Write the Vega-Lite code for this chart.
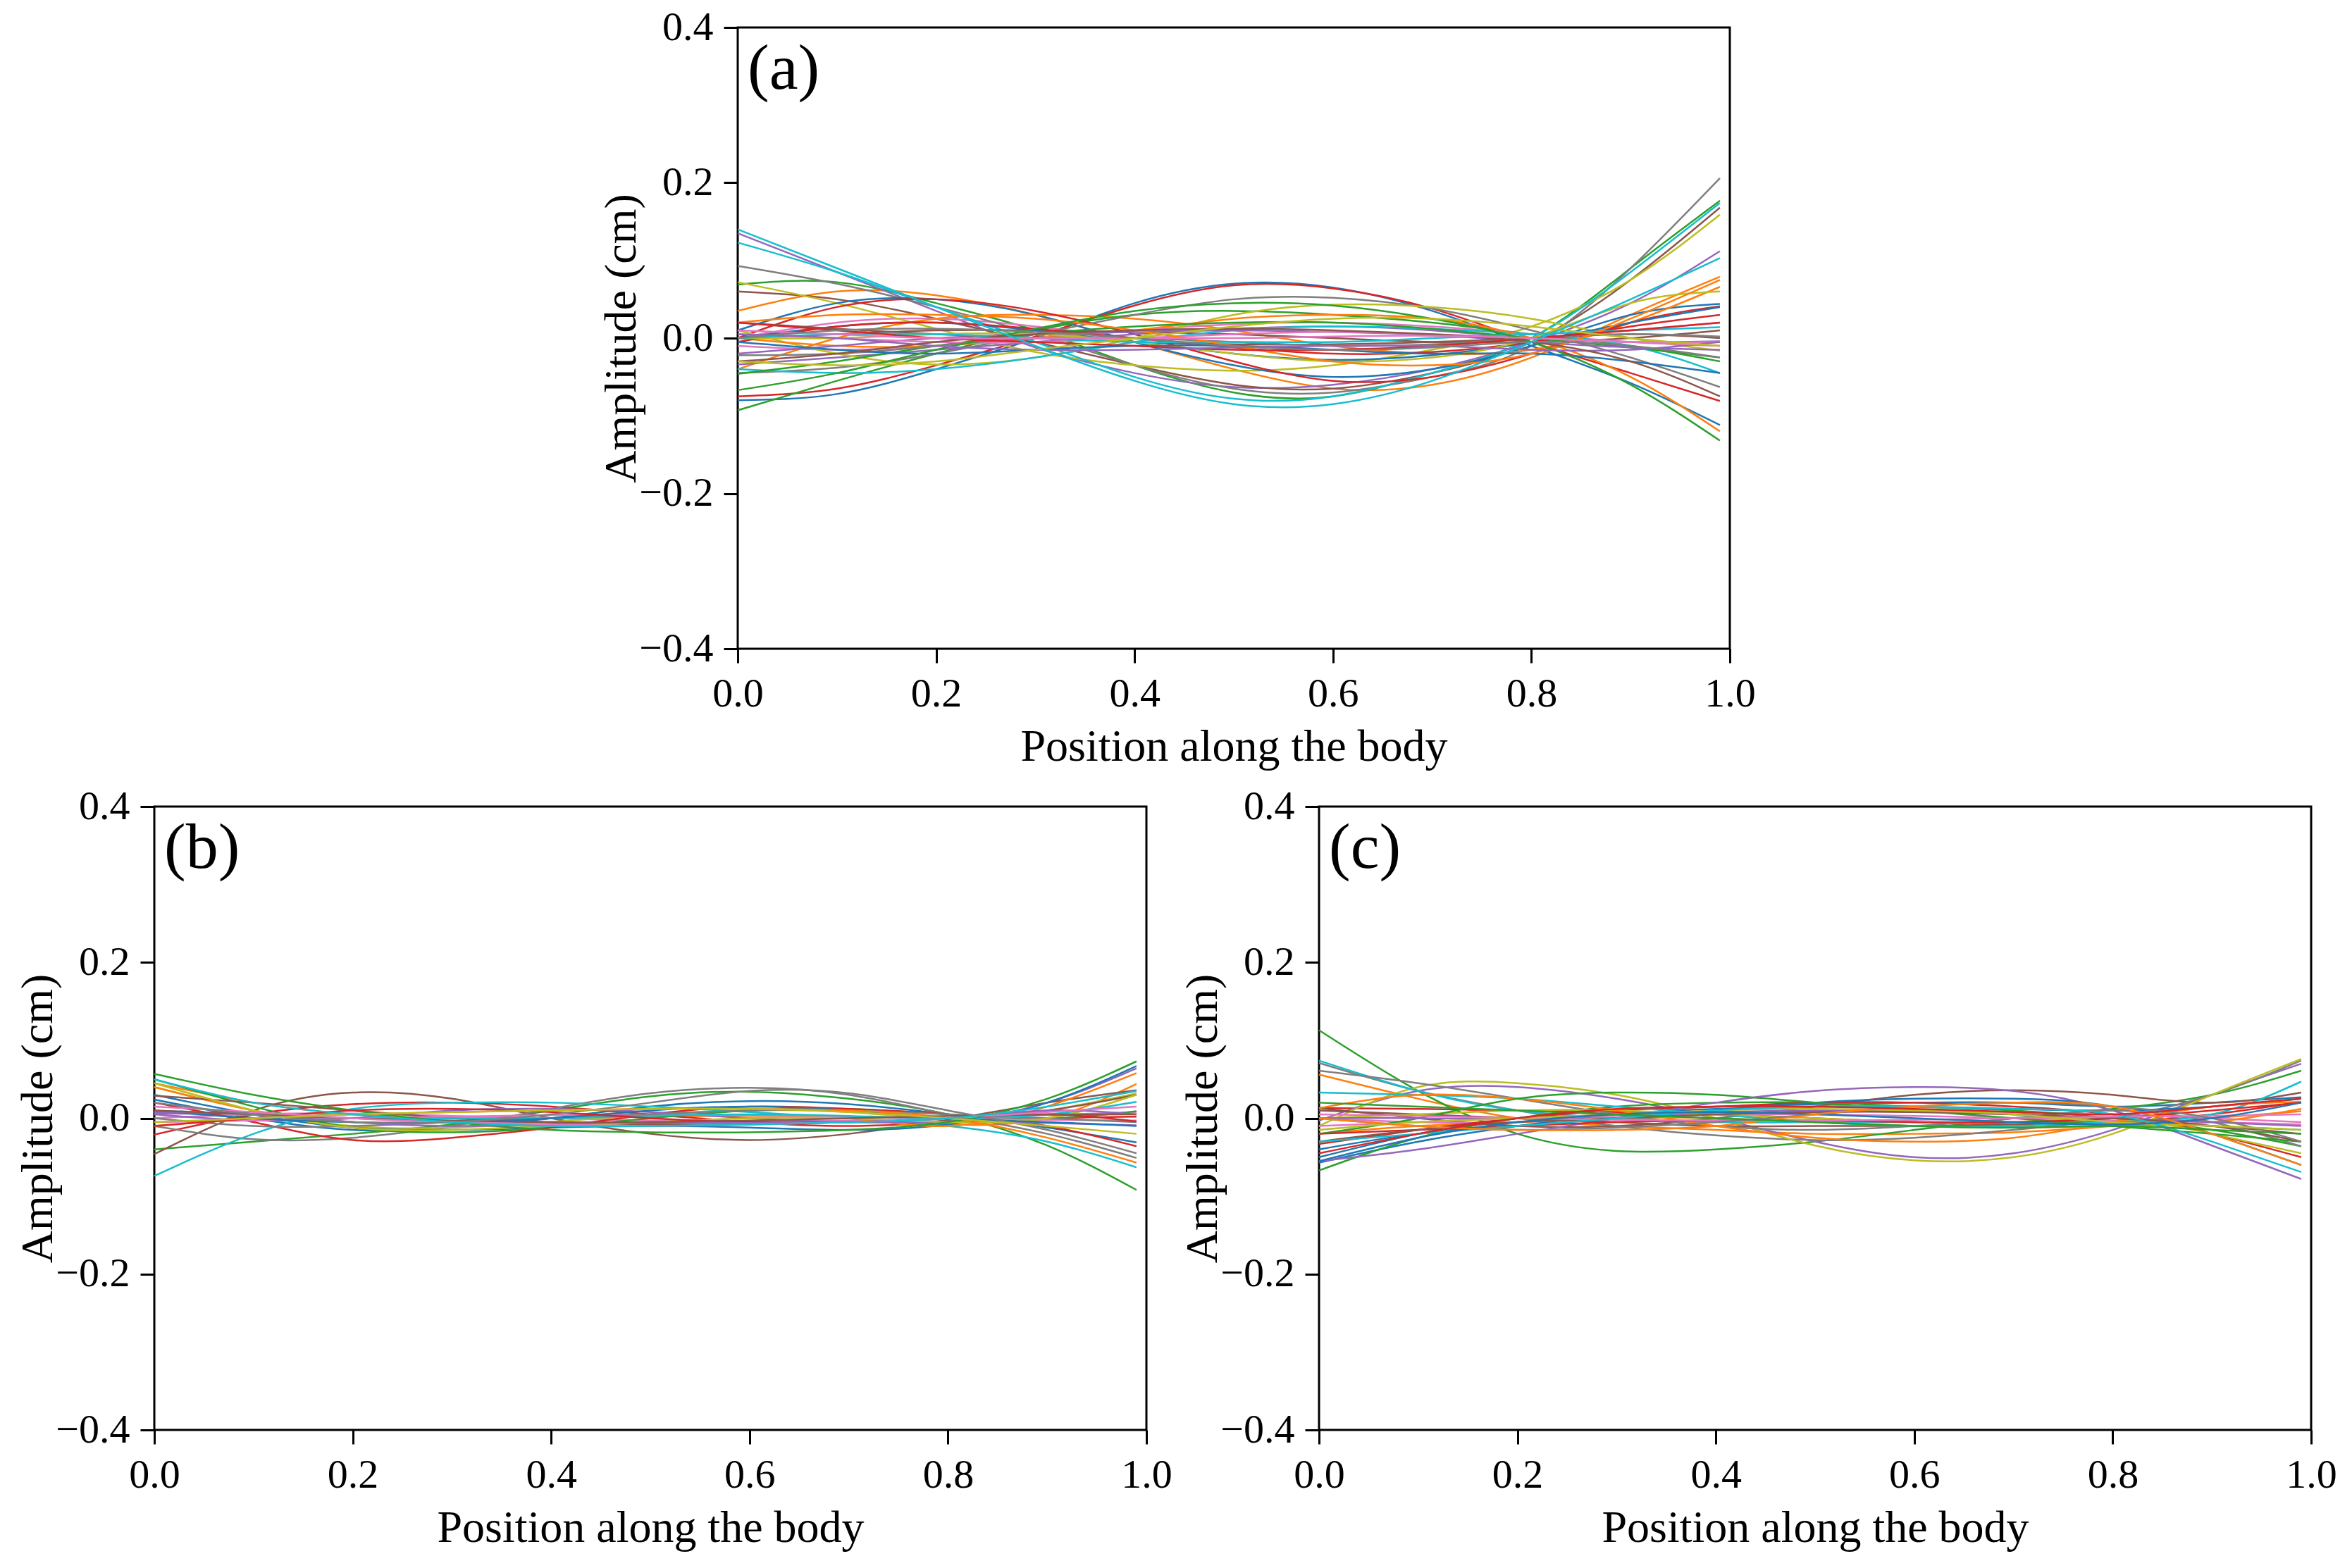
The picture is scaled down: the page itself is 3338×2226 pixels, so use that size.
{
"$schema":"https://vega.github.io/schema/vega-lite/v6.json",
"padding":{"left":21,"top":8,"right":0,"bottom":0},
"background":"white",
"config":{
 "font":"Liberation Serif",
 "view":{"stroke":"black","strokeWidth":3},
 "axis":{"grid":false,"domain":false,"ticks":true,"tickSize":20,"tickWidth":3,"tickColor":"black","labelFont":"Liberation Serif","labelFontSize":58,"labelColor":"black","labelPadding":15,"labelFlush":false,"titleFont":"Liberation Serif","titleFontSize":64,"titleFontWeight":"normal","titleColor":"black"},
 "axisX":{"titlePadding":14},
 "axisY":{"titlePadding":-8},
 "line":{"strokeWidth":2.5,"interpolate":"natural"}
},
"datasets":{
"a":[
{"s":0,"x":0,"y":-0.08},{"s":0,"x":0.1,"y":-0.072},{"s":0,"x":0.2,"y":-0.04},{"s":0,"x":0.3,"y":0.0},{"s":0,"x":0.4,"y":0.045},{"s":0,"x":0.5,"y":0.07},{"s":0,"x":0.6,"y":0.065},{"s":0,"x":0.7,"y":0.035},{"s":0,"x":0.8,"y":-0.01},{"s":0,"x":0.9,"y":-0.058},{"s":0,"x":0.99,"y":-0.112},
{"s":1,"x":0,"y":0.035},{"s":1,"x":0.1,"y":0.06},{"s":1,"x":0.2,"y":0.055},{"s":1,"x":0.3,"y":0.03},{"s":1,"x":0.4,"y":-0.005},{"s":1,"x":0.5,"y":-0.04},{"s":1,"x":0.6,"y":-0.065},{"s":1,"x":0.7,"y":-0.06},{"s":1,"x":0.8,"y":-0.025},{"s":1,"x":0.9,"y":0.03},{"s":1,"x":0.99,"y":0.079},
{"s":2,"x":0,"y":0.069},{"s":2,"x":0.1,"y":0.072},{"s":2,"x":0.2,"y":0.045},{"s":2,"x":0.3,"y":0.01},{"s":2,"x":0.4,"y":-0.035},{"s":2,"x":0.5,"y":-0.07},{"s":2,"x":0.6,"y":-0.075},{"s":2,"x":0.7,"y":-0.045},{"s":2,"x":0.8,"y":0.0},{"s":2,"x":0.9,"y":0.09},{"s":2,"x":0.99,"y":0.177},
{"s":3,"x":0,"y":-0.075},{"s":3,"x":0.1,"y":-0.065},{"s":3,"x":0.2,"y":-0.035},{"s":3,"x":0.3,"y":0.002},{"s":3,"x":0.4,"y":0.042},{"s":3,"x":0.5,"y":0.068},{"s":3,"x":0.6,"y":0.064},{"s":3,"x":0.7,"y":0.038},{"s":3,"x":0.8,"y":-0.005},{"s":3,"x":0.9,"y":-0.045},{"s":3,"x":0.99,"y":-0.081},
{"s":4,"x":0,"y":0.135},{"s":4,"x":0.1,"y":0.085},{"s":4,"x":0.2,"y":0.035},{"s":4,"x":0.3,"y":-0.012},{"s":4,"x":0.4,"y":-0.045},{"s":4,"x":0.5,"y":-0.063},{"s":4,"x":0.6,"y":-0.06},{"s":4,"x":0.7,"y":-0.04},{"s":4,"x":0.8,"y":-0.005},{"s":4,"x":0.9,"y":0.045},{"s":4,"x":0.99,"y":0.112},
{"s":5,"x":0,"y":0.06},{"s":5,"x":0.1,"y":0.05},{"s":5,"x":0.2,"y":0.025},{"s":5,"x":0.3,"y":-0.005},{"s":5,"x":0.4,"y":-0.035},{"s":5,"x":0.5,"y":-0.06},{"s":5,"x":0.6,"y":-0.065},{"s":5,"x":0.7,"y":-0.045},{"s":5,"x":0.8,"y":-0.005},{"s":5,"x":0.9,"y":0.075},{"s":5,"x":0.99,"y":0.168},
{"s":6,"x":0,"y":0.0},{"s":6,"x":0.1,"y":0.02},{"s":6,"x":0.2,"y":0.025},{"s":6,"x":0.3,"y":0.015},{"s":6,"x":0.4,"y":0.0},{"s":6,"x":0.5,"y":-0.01},{"s":6,"x":0.6,"y":-0.015},{"s":6,"x":0.7,"y":-0.01},{"s":6,"x":0.8,"y":0.0},{"s":6,"x":0.9,"y":0.01},{"s":6,"x":0.99,"y":0.02},
{"s":7,"x":0,"y":0.093},{"s":7,"x":0.1,"y":0.07},{"s":7,"x":0.2,"y":0.04},{"s":7,"x":0.3,"y":0.005},{"s":7,"x":0.4,"y":-0.035},{"s":7,"x":0.5,"y":-0.065},{"s":7,"x":0.6,"y":-0.07},{"s":7,"x":0.7,"y":-0.05},{"s":7,"x":0.8,"y":-0.01},{"s":7,"x":0.9,"y":0.09},{"s":7,"x":0.99,"y":0.206},
{"s":8,"x":0,"y":0.072},{"s":8,"x":0.1,"y":0.045},{"s":8,"x":0.2,"y":0.012},{"s":8,"x":0.3,"y":-0.018},{"s":8,"x":0.4,"y":-0.035},{"s":8,"x":0.5,"y":-0.042},{"s":8,"x":0.6,"y":-0.035},{"s":8,"x":0.7,"y":-0.015},{"s":8,"x":0.8,"y":0.015},{"s":8,"x":0.9,"y":0.075},{"s":8,"x":0.99,"y":0.159},
{"s":9,"x":0,"y":0.123},{"s":9,"x":0.1,"y":0.085},{"s":9,"x":0.2,"y":0.04},{"s":9,"x":0.3,"y":-0.005},{"s":9,"x":0.4,"y":-0.05},{"s":9,"x":0.5,"y":-0.078},{"s":9,"x":0.6,"y":-0.075},{"s":9,"x":0.7,"y":-0.045},{"s":9,"x":0.8,"y":0.0},{"s":9,"x":0.9,"y":0.085},{"s":9,"x":0.99,"y":0.174},
{"s":10,"x":0,"y":0.01},{"s":10,"x":0.1,"y":0.045},{"s":10,"x":0.2,"y":0.05},{"s":10,"x":0.3,"y":0.03},{"s":10,"x":0.4,"y":-0.005},{"s":10,"x":0.5,"y":-0.035},{"s":10,"x":0.6,"y":-0.05},{"s":10,"x":0.7,"y":-0.04},{"s":10,"x":0.8,"y":-0.01},{"s":10,"x":0.9,"y":0.03},{"s":10,"x":0.99,"y":0.044},
{"s":11,"x":0,"y":-0.04},{"s":11,"x":0.1,"y":0.0},{"s":11,"x":0.2,"y":0.025},{"s":11,"x":0.3,"y":0.03},{"s":11,"x":0.4,"y":0.025},{"s":11,"x":0.5,"y":0.01},{"s":11,"x":0.6,"y":-0.01},{"s":11,"x":0.7,"y":-0.02},{"s":11,"x":0.8,"y":-0.015},{"s":11,"x":0.9,"y":0.02},{"s":11,"x":0.99,"y":0.066},
{"s":12,"x":0,"y":-0.093},{"s":12,"x":0.1,"y":-0.055},{"s":12,"x":0.2,"y":-0.02},{"s":12,"x":0.3,"y":0.01},{"s":12,"x":0.4,"y":0.03},{"s":12,"x":0.5,"y":0.035},{"s":12,"x":0.6,"y":0.03},{"s":12,"x":0.7,"y":0.02},{"s":12,"x":0.8,"y":0.005},{"s":12,"x":0.9,"y":-0.01},{"s":12,"x":0.99,"y":-0.03},
{"s":13,"x":0,"y":0.0},{"s":13,"x":0.1,"y":0.04},{"s":13,"x":0.2,"y":0.05},{"s":13,"x":0.3,"y":0.035},{"s":13,"x":0.4,"y":0.005},{"s":13,"x":0.5,"y":-0.03},{"s":13,"x":0.6,"y":-0.055},{"s":13,"x":0.7,"y":-0.05},{"s":13,"x":0.8,"y":-0.02},{"s":13,"x":0.9,"y":0.02},{"s":13,"x":0.99,"y":0.041},
{"s":14,"x":0,"y":-0.034},{"s":14,"x":0.1,"y":-0.025},{"s":14,"x":0.2,"y":-0.015},{"s":14,"x":0.3,"y":-0.005},{"s":14,"x":0.4,"y":0.005},{"s":14,"x":0.5,"y":0.012},{"s":14,"x":0.6,"y":0.015},{"s":14,"x":0.7,"y":0.01},{"s":14,"x":0.8,"y":0.0},{"s":14,"x":0.9,"y":-0.005},{"s":14,"x":0.99,"y":-0.004},
{"s":15,"x":0,"y":0.0},{"s":15,"x":0.1,"y":0.005},{"s":15,"x":0.2,"y":0.01},{"s":15,"x":0.3,"y":0.01},{"s":15,"x":0.4,"y":0.008},{"s":15,"x":0.5,"y":0.005},{"s":15,"x":0.6,"y":0.0},{"s":15,"x":0.7,"y":-0.005},{"s":15,"x":0.8,"y":-0.005},{"s":15,"x":0.9,"y":0.0},{"s":15,"x":0.99,"y":0.01},
{"s":16,"x":0,"y":-0.01},{"s":16,"x":0.1,"y":-0.015},{"s":16,"x":0.2,"y":-0.01},{"s":16,"x":0.3,"y":0.0},{"s":16,"x":0.4,"y":0.01},{"s":16,"x":0.5,"y":0.018},{"s":16,"x":0.6,"y":0.02},{"s":16,"x":0.7,"y":0.015},{"s":16,"x":0.8,"y":0.005},{"s":16,"x":0.9,"y":-0.005},{"s":16,"x":0.99,"y":-0.01},
{"s":17,"x":0,"y":-0.045},{"s":17,"x":0.1,"y":-0.038},{"s":17,"x":0.2,"y":-0.02},{"s":17,"x":0.3,"y":0.005},{"s":17,"x":0.4,"y":0.03},{"s":17,"x":0.5,"y":0.05},{"s":17,"x":0.6,"y":0.052},{"s":17,"x":0.7,"y":0.038},{"s":17,"x":0.8,"y":0.01},{"s":17,"x":0.9,"y":-0.025},{"s":17,"x":0.99,"y":-0.063},
{"s":18,"x":0,"y":0.01},{"s":18,"x":0.1,"y":-0.02},{"s":18,"x":0.2,"y":-0.034},{"s":18,"x":0.3,"y":-0.025},{"s":18,"x":0.4,"y":0.0},{"s":18,"x":0.5,"y":0.03},{"s":18,"x":0.6,"y":0.043},{"s":18,"x":0.7,"y":0.04},{"s":18,"x":0.8,"y":0.025},{"s":18,"x":0.9,"y":0.0},{"s":18,"x":0.99,"y":-0.016},
{"s":19,"x":0,"y":-0.04},{"s":19,"x":0.1,"y":-0.045},{"s":19,"x":0.2,"y":-0.04},{"s":19,"x":0.3,"y":-0.025},{"s":19,"x":0.4,"y":-0.005},{"s":19,"x":0.5,"y":0.01},{"s":19,"x":0.6,"y":0.015},{"s":19,"x":0.7,"y":0.012},{"s":19,"x":0.8,"y":0.005},{"s":19,"x":0.9,"y":-0.01},{"s":19,"x":0.99,"y":-0.045},
{"s":20,"x":0,"y":0.0},{"s":20,"x":0.1,"y":0.015},{"s":20,"x":0.2,"y":0.02},{"s":20,"x":0.3,"y":0.01},{"s":20,"x":0.4,"y":-0.005},{"s":20,"x":0.5,"y":-0.02},{"s":20,"x":0.6,"y":-0.028},{"s":20,"x":0.7,"y":-0.022},{"s":20,"x":0.8,"y":-0.005},{"s":20,"x":0.9,"y":0.02},{"s":20,"x":0.99,"y":0.04},
{"s":21,"x":0,"y":0.0},{"s":21,"x":0.1,"y":-0.01},{"s":21,"x":0.2,"y":-0.01},{"s":21,"x":0.3,"y":0.0},{"s":21,"x":0.4,"y":0.01},{"s":21,"x":0.5,"y":0.025},{"s":21,"x":0.6,"y":0.03},{"s":21,"x":0.7,"y":0.025},{"s":21,"x":0.8,"y":0.0},{"s":21,"x":0.9,"y":-0.05},{"s":21,"x":0.99,"y":-0.12},
{"s":22,"x":0,"y":-0.046},{"s":22,"x":0.1,"y":-0.03},{"s":22,"x":0.2,"y":-0.01},{"s":22,"x":0.3,"y":0.005},{"s":22,"x":0.4,"y":0.015},{"s":22,"x":0.5,"y":0.02},{"s":22,"x":0.6,"y":0.02},{"s":22,"x":0.7,"y":0.012},{"s":22,"x":0.8,"y":0.0},{"s":22,"x":0.9,"y":-0.012},{"s":22,"x":0.99,"y":-0.025},
{"s":23,"x":0,"y":-0.005},{"s":23,"x":0.1,"y":0.015},{"s":23,"x":0.2,"y":0.02},{"s":23,"x":0.3,"y":0.012},{"s":23,"x":0.4,"y":0.0},{"s":23,"x":0.5,"y":-0.012},{"s":23,"x":0.6,"y":-0.02},{"s":23,"x":0.7,"y":-0.018},{"s":23,"x":0.8,"y":-0.005},{"s":23,"x":0.9,"y":0.015},{"s":23,"x":0.99,"y":0.03},
{"s":24,"x":0,"y":-0.02},{"s":24,"x":0.1,"y":-0.01},{"s":24,"x":0.2,"y":0.0},{"s":24,"x":0.3,"y":0.005},{"s":24,"x":0.4,"y":0.008},{"s":24,"x":0.5,"y":0.01},{"s":24,"x":0.6,"y":0.008},{"s":24,"x":0.7,"y":0.004},{"s":24,"x":0.8,"y":-0.005},{"s":24,"x":0.9,"y":-0.012},{"s":24,"x":0.99,"y":-0.015},
{"s":25,"x":0,"y":0.02},{"s":25,"x":0.1,"y":0.012},{"s":25,"x":0.2,"y":0.005},{"s":25,"x":0.3,"y":0.0},{"s":25,"x":0.4,"y":-0.005},{"s":25,"x":0.5,"y":-0.008},{"s":25,"x":0.6,"y":-0.008},{"s":25,"x":0.7,"y":-0.005},{"s":25,"x":0.8,"y":0.0},{"s":25,"x":0.9,"y":0.005},{"s":25,"x":0.99,"y":0.0},
{"s":26,"x":0,"y":0.005},{"s":26,"x":0.1,"y":0.0},{"s":26,"x":0.2,"y":-0.005},{"s":26,"x":0.3,"y":-0.005},{"s":26,"x":0.4,"y":0.0},{"s":26,"x":0.5,"y":0.005},{"s":26,"x":0.6,"y":0.008},{"s":26,"x":0.7,"y":0.005},{"s":26,"x":0.8,"y":0.0},{"s":26,"x":0.9,"y":-0.005},{"s":26,"x":0.99,"y":-0.005},
{"s":27,"x":0,"y":-0.022},{"s":27,"x":0.1,"y":-0.02},{"s":27,"x":0.2,"y":-0.01},{"s":27,"x":0.3,"y":0.0},{"s":27,"x":0.4,"y":0.0},{"s":27,"x":0.5,"y":-0.005},{"s":27,"x":0.6,"y":-0.01},{"s":27,"x":0.7,"y":-0.008},{"s":27,"x":0.8,"y":0.0},{"s":27,"x":0.9,"y":0.005},{"s":27,"x":0.99,"y":0.002},
{"s":28,"x":0,"y":0.0},{"s":28,"x":0.1,"y":0.0},{"s":28,"x":0.2,"y":0.005},{"s":28,"x":0.3,"y":0.005},{"s":28,"x":0.4,"y":-0.005},{"s":28,"x":0.5,"y":-0.02},{"s":28,"x":0.6,"y":-0.03},{"s":28,"x":0.7,"y":-0.025},{"s":28,"x":0.8,"y":0.0},{"s":28,"x":0.9,"y":0.045},{"s":28,"x":0.99,"y":0.06},
{"s":29,"x":0,"y":0.0},{"s":29,"x":0.1,"y":0.005},{"s":29,"x":0.2,"y":0.005},{"s":29,"x":0.3,"y":0.0},{"s":29,"x":0.4,"y":-0.005},{"s":29,"x":0.5,"y":-0.005},{"s":29,"x":0.6,"y":-0.005},{"s":29,"x":0.7,"y":0.0},{"s":29,"x":0.8,"y":0.005},{"s":29,"x":0.9,"y":0.01},{"s":29,"x":0.99,"y":0.014},
{"s":30,"x":0,"y":-0.005},{"s":30,"x":0.1,"y":-0.015},{"s":30,"x":0.2,"y":-0.02},{"s":30,"x":0.3,"y":-0.015},{"s":30,"x":0.4,"y":-0.01},{"s":30,"x":0.5,"y":-0.01},{"s":30,"x":0.6,"y":-0.015},{"s":30,"x":0.7,"y":-0.02},{"s":30,"x":0.8,"y":-0.02},{"s":30,"x":0.9,"y":-0.03},{"s":30,"x":0.99,"y":-0.045},
{"s":31,"x":0,"y":0.02},{"s":31,"x":0.1,"y":0.03},{"s":31,"x":0.2,"y":0.03},{"s":31,"x":0.3,"y":0.025},{"s":31,"x":0.4,"y":0.01},{"s":31,"x":0.5,"y":-0.01},{"s":31,"x":0.6,"y":-0.03},{"s":31,"x":0.7,"y":-0.035},{"s":31,"x":0.8,"y":-0.02},{"s":31,"x":0.9,"y":0.025},{"s":31,"x":0.99,"y":0.075},
{"s":32,"x":0,"y":-0.067},{"s":32,"x":0.1,"y":-0.045},{"s":32,"x":0.2,"y":-0.015},{"s":32,"x":0.3,"y":0.012},{"s":32,"x":0.4,"y":0.035},{"s":32,"x":0.5,"y":0.045},{"s":32,"x":0.6,"y":0.042},{"s":32,"x":0.7,"y":0.025},{"s":32,"x":0.8,"y":-0.005},{"s":32,"x":0.9,"y":-0.06},{"s":32,"x":0.99,"y":-0.132},
{"s":33,"x":0,"y":0.02},{"s":33,"x":0.1,"y":0.01},{"s":33,"x":0.2,"y":0.0},{"s":33,"x":0.3,"y":-0.005},{"s":33,"x":0.4,"y":-0.01},{"s":33,"x":0.5,"y":-0.015},{"s":33,"x":0.6,"y":-0.015},{"s":33,"x":0.7,"y":-0.01},{"s":33,"x":0.8,"y":0.0},{"s":33,"x":0.9,"y":0.01},{"s":33,"x":0.99,"y":0.02},
{"s":34,"x":0,"y":0.005},{"s":34,"x":0.1,"y":0.0},{"s":34,"x":0.2,"y":-0.01},{"s":34,"x":0.3,"y":-0.015},{"s":34,"x":0.4,"y":-0.015},{"s":34,"x":0.5,"y":-0.012},{"s":34,"x":0.6,"y":-0.01},{"s":34,"x":0.7,"y":-0.01},{"s":34,"x":0.8,"y":-0.015},{"s":34,"x":0.9,"y":-0.015},{"s":34,"x":0.99,"y":-0.005},
{"s":35,"x":0,"y":-0.03},{"s":35,"x":0.1,"y":-0.02},{"s":35,"x":0.2,"y":-0.005},{"s":35,"x":0.3,"y":0.005},{"s":35,"x":0.4,"y":0.01},{"s":35,"x":0.5,"y":0.012},{"s":35,"x":0.6,"y":0.01},{"s":35,"x":0.7,"y":0.005},{"s":35,"x":0.8,"y":-0.005},{"s":35,"x":0.9,"y":-0.03},{"s":35,"x":0.99,"y":-0.075},
{"s":36,"x":0,"y":0.01},{"s":36,"x":0.1,"y":0.005},{"s":36,"x":0.2,"y":0.0},{"s":36,"x":0.3,"y":0.0},{"s":36,"x":0.4,"y":0.0},{"s":36,"x":0.5,"y":0.0},{"s":36,"x":0.6,"y":0.002},{"s":36,"x":0.7,"y":0.003},{"s":36,"x":0.8,"y":0.0},{"s":36,"x":0.9,"y":-0.005},{"s":36,"x":0.99,"y":-0.01},
{"s":37,"x":0,"y":0.0},{"s":37,"x":0.1,"y":0.01},{"s":37,"x":0.2,"y":0.012},{"s":37,"x":0.3,"y":0.008},{"s":37,"x":0.4,"y":0.0},{"s":37,"x":0.5,"y":-0.01},{"s":37,"x":0.6,"y":-0.015},{"s":37,"x":0.7,"y":-0.012},{"s":37,"x":0.8,"y":-0.005},{"s":37,"x":0.9,"y":-0.01},{"s":37,"x":0.99,"y":-0.025},
{"s":38,"x":0,"y":-0.03},{"s":38,"x":0.1,"y":-0.035},{"s":38,"x":0.2,"y":-0.03},{"s":38,"x":0.3,"y":-0.015},{"s":38,"x":0.4,"y":0.0},{"s":38,"x":0.5,"y":0.015},{"s":38,"x":0.6,"y":0.025},{"s":38,"x":0.7,"y":0.025},{"s":38,"x":0.8,"y":0.015},{"s":38,"x":0.9,"y":0.0},{"s":38,"x":0.99,"y":-0.01},
{"s":39,"x":0,"y":0.14},{"s":39,"x":0.1,"y":0.09},{"s":39,"x":0.2,"y":0.04},{"s":39,"x":0.3,"y":-0.01},{"s":39,"x":0.4,"y":-0.055},{"s":39,"x":0.5,"y":-0.085},{"s":39,"x":0.6,"y":-0.085},{"s":39,"x":0.7,"y":-0.055},{"s":39,"x":0.8,"y":-0.005},{"s":39,"x":0.9,"y":0.05},{"s":39,"x":0.99,"y":0.103}
],
"b":[
{"s":0,"x":0,"y":0.024},{"s":0,"x":0.1,"y":0.0},{"s":0,"x":0.2,"y":-0.015},{"s":0,"x":0.3,"y":-0.012},{"s":0,"x":0.4,"y":0.0},{"s":0,"x":0.5,"y":0.015},{"s":0,"x":0.6,"y":0.022},{"s":0,"x":0.7,"y":0.018},{"s":0,"x":0.8,"y":0.005},{"s":0,"x":0.9,"y":-0.012},{"s":0,"x":0.99,"y":-0.031},
{"s":1,"x":0,"y":0.045},{"s":1,"x":0.1,"y":0.02},{"s":1,"x":0.2,"y":0.005},{"s":1,"x":0.3,"y":0.0},{"s":1,"x":0.4,"y":0.0},{"s":1,"x":0.5,"y":0.002},{"s":1,"x":0.6,"y":0.003},{"s":1,"x":0.7,"y":0.0},{"s":1,"x":0.8,"y":-0.008},{"s":1,"x":0.9,"y":0.0},{"s":1,"x":0.99,"y":0.044},
{"s":2,"x":0,"y":-0.04},{"s":2,"x":0.1,"y":-0.03},{"s":2,"x":0.2,"y":-0.02},{"s":2,"x":0.3,"y":-0.008},{"s":2,"x":0.4,"y":0.01},{"s":2,"x":0.5,"y":0.028},{"s":2,"x":0.6,"y":0.034},{"s":2,"x":0.7,"y":0.025},{"s":2,"x":0.8,"y":0.005},{"s":2,"x":0.9,"y":-0.035},{"s":2,"x":0.99,"y":-0.092},
{"s":3,"x":0,"y":-0.021},{"s":3,"x":0.1,"y":0.005},{"s":3,"x":0.2,"y":0.018},{"s":3,"x":0.3,"y":0.02},{"s":3,"x":0.4,"y":0.015},{"s":3,"x":0.5,"y":0.005},{"s":3,"x":0.6,"y":-0.005},{"s":3,"x":0.7,"y":-0.01},{"s":3,"x":0.8,"y":-0.005},{"s":3,"x":0.9,"y":0.0},{"s":3,"x":0.99,"y":0.002},
{"s":4,"x":0,"y":0.006},{"s":4,"x":0.1,"y":0.005},{"s":4,"x":0.2,"y":0.0},{"s":4,"x":0.3,"y":-0.004},{"s":4,"x":0.4,"y":-0.006},{"s":4,"x":0.5,"y":-0.006},{"s":4,"x":0.6,"y":-0.006},{"s":4,"x":0.7,"y":-0.005},{"s":4,"x":0.8,"y":-0.003},{"s":4,"x":0.9,"y":0.02},{"s":4,"x":0.99,"y":0.064},
{"s":5,"x":0,"y":-0.046},{"s":5,"x":0.1,"y":0.01},{"s":5,"x":0.2,"y":0.033},{"s":5,"x":0.3,"y":0.025},{"s":5,"x":0.4,"y":0.0},{"s":5,"x":0.5,"y":-0.02},{"s":5,"x":0.6,"y":-0.028},{"s":5,"x":0.7,"y":-0.02},{"s":5,"x":0.8,"y":-0.002},{"s":5,"x":0.9,"y":0.02},{"s":5,"x":0.99,"y":0.036},
{"s":6,"x":0,"y":0.0},{"s":6,"x":0.1,"y":0.005},{"s":6,"x":0.2,"y":0.006},{"s":6,"x":0.3,"y":0.003},{"s":6,"x":0.4,"y":0.0},{"s":6,"x":0.5,"y":-0.003},{"s":6,"x":0.6,"y":-0.004},{"s":6,"x":0.7,"y":-0.003},{"s":6,"x":0.8,"y":0.0},{"s":6,"x":0.9,"y":0.004},{"s":6,"x":0.99,"y":0.008},
{"s":7,"x":0,"y":-0.01},{"s":7,"x":0.1,"y":-0.027},{"s":7,"x":0.2,"y":-0.025},{"s":7,"x":0.3,"y":-0.01},{"s":7,"x":0.4,"y":0.012},{"s":7,"x":0.5,"y":0.032},{"s":7,"x":0.6,"y":0.039},{"s":7,"x":0.7,"y":0.03},{"s":7,"x":0.8,"y":0.005},{"s":7,"x":0.9,"y":-0.02},{"s":7,"x":0.99,"y":-0.051},
{"s":8,"x":0,"y":0.04},{"s":8,"x":0.1,"y":0.01},{"s":8,"x":0.2,"y":-0.01},{"s":8,"x":0.3,"y":-0.012},{"s":8,"x":0.4,"y":-0.005},{"s":8,"x":0.5,"y":0.005},{"s":8,"x":0.6,"y":0.01},{"s":8,"x":0.7,"y":0.008},{"s":8,"x":0.8,"y":0.0},{"s":8,"x":0.9,"y":0.01},{"s":8,"x":0.99,"y":0.032},
{"s":9,"x":0,"y":-0.074},{"s":9,"x":0.1,"y":-0.02},{"s":9,"x":0.2,"y":0.012},{"s":9,"x":0.3,"y":0.02},{"s":9,"x":0.4,"y":0.02},{"s":9,"x":0.5,"y":0.015},{"s":9,"x":0.6,"y":0.008},{"s":9,"x":0.7,"y":0.0},{"s":9,"x":0.8,"y":-0.01},{"s":9,"x":0.9,"y":-0.03},{"s":9,"x":0.99,"y":-0.063},
{"s":10,"x":0,"y":0.03},{"s":10,"x":0.1,"y":0.005},{"s":10,"x":0.2,"y":-0.012},{"s":10,"x":0.3,"y":-0.015},{"s":10,"x":0.4,"y":-0.012},{"s":10,"x":0.5,"y":-0.01},{"s":10,"x":0.6,"y":-0.012},{"s":10,"x":0.7,"y":-0.015},{"s":10,"x":0.8,"y":-0.008},{"s":10,"x":0.9,"y":0.02},{"s":10,"x":0.99,"y":0.067},
{"s":11,"x":0,"y":0.04},{"s":11,"x":0.1,"y":0.01},{"s":11,"x":0.2,"y":-0.005},{"s":11,"x":0.3,"y":-0.005},{"s":11,"x":0.4,"y":0.0},{"s":11,"x":0.5,"y":0.005},{"s":11,"x":0.6,"y":0.004},{"s":11,"x":0.7,"y":0.0},{"s":11,"x":0.8,"y":-0.01},{"s":11,"x":0.9,"y":0.015},{"s":11,"x":0.99,"y":0.058},
{"s":12,"x":0,"y":0.05},{"s":12,"x":0.1,"y":0.015},{"s":12,"x":0.2,"y":-0.012},{"s":12,"x":0.3,"y":-0.018},{"s":12,"x":0.4,"y":-0.012},{"s":12,"x":0.5,"y":0.0},{"s":12,"x":0.6,"y":0.01},{"s":12,"x":0.7,"y":0.012},{"s":12,"x":0.8,"y":0.005},{"s":12,"x":0.9,"y":0.0},{"s":12,"x":0.99,"y":0.009},
{"s":13,"x":0,"y":0.02},{"s":13,"x":0.1,"y":-0.005},{"s":13,"x":0.2,"y":-0.028},{"s":13,"x":0.3,"y":-0.025},{"s":13,"x":0.4,"y":-0.012},{"s":13,"x":0.5,"y":0.005},{"s":13,"x":0.6,"y":0.015},{"s":13,"x":0.7,"y":0.012},{"s":13,"x":0.8,"y":0.005},{"s":13,"x":0.9,"y":-0.01},{"s":13,"x":0.99,"y":-0.036},
{"s":14,"x":0,"y":0.005},{"s":14,"x":0.1,"y":-0.003},{"s":14,"x":0.2,"y":0.0},{"s":14,"x":0.3,"y":0.01},{"s":14,"x":0.4,"y":0.012},{"s":14,"x":0.5,"y":0.008},{"s":14,"x":0.6,"y":0.0},{"s":14,"x":0.7,"y":-0.005},{"s":14,"x":0.8,"y":-0.005},{"s":14,"x":0.9,"y":-0.006},{"s":14,"x":0.99,"y":-0.009},
{"s":15,"x":0,"y":0.029},{"s":15,"x":0.1,"y":0.02},{"s":15,"x":0.2,"y":0.01},{"s":15,"x":0.3,"y":0.0},{"s":15,"x":0.4,"y":-0.005},{"s":15,"x":0.5,"y":-0.008},{"s":15,"x":0.6,"y":-0.008},{"s":15,"x":0.7,"y":-0.005},{"s":15,"x":0.8,"y":0.0},{"s":15,"x":0.9,"y":0.01},{"s":15,"x":0.99,"y":0.03},
{"s":16,"x":0,"y":-0.005},{"s":16,"x":0.1,"y":-0.003},{"s":16,"x":0.2,"y":0.0},{"s":16,"x":0.3,"y":0.002},{"s":16,"x":0.4,"y":0.004},{"s":16,"x":0.5,"y":0.005},{"s":16,"x":0.6,"y":0.004},{"s":16,"x":0.7,"y":0.002},{"s":16,"x":0.8,"y":0.0},{"s":16,"x":0.9,"y":-0.002},{"s":16,"x":0.99,"y":-0.003},
{"s":17,"x":0,"y":0.0},{"s":17,"x":0.1,"y":-0.01},{"s":17,"x":0.2,"y":-0.01},{"s":17,"x":0.3,"y":-0.005},{"s":17,"x":0.4,"y":0.0},{"s":17,"x":0.5,"y":0.005},{"s":17,"x":0.6,"y":0.01},{"s":17,"x":0.7,"y":0.01},{"s":17,"x":0.8,"y":0.005},{"s":17,"x":0.9,"y":0.0},{"s":17,"x":0.99,"y":-0.005},
{"s":18,"x":0,"y":0.045},{"s":18,"x":0.1,"y":0.01},{"s":18,"x":0.2,"y":-0.012},{"s":18,"x":0.3,"y":-0.015},{"s":18,"x":0.4,"y":-0.01},{"s":18,"x":0.5,"y":-0.005},{"s":18,"x":0.6,"y":0.0},{"s":18,"x":0.7,"y":0.0},{"s":18,"x":0.8,"y":-0.005},{"s":18,"x":0.9,"y":0.0},{"s":18,"x":0.99,"y":0.03},
{"s":19,"x":0,"y":0.01},{"s":19,"x":0.1,"y":0.005},{"s":19,"x":0.2,"y":0.0},{"s":19,"x":0.3,"y":0.0},{"s":19,"x":0.4,"y":0.0},{"s":19,"x":0.5,"y":0.003},{"s":19,"x":0.6,"y":0.005},{"s":19,"x":0.7,"y":0.003},{"s":19,"x":0.8,"y":0.0},{"s":19,"x":0.9,"y":0.005},{"s":19,"x":0.99,"y":0.021},
{"s":20,"x":0,"y":0.01},{"s":20,"x":0.1,"y":0.0},{"s":20,"x":0.2,"y":-0.005},{"s":20,"x":0.3,"y":-0.005},{"s":20,"x":0.4,"y":0.0},{"s":20,"x":0.5,"y":0.01},{"s":20,"x":0.6,"y":0.015},{"s":20,"x":0.7,"y":0.01},{"s":20,"x":0.8,"y":0.0},{"s":20,"x":0.9,"y":-0.005},{"s":20,"x":0.99,"y":-0.01},
{"s":21,"x":0,"y":-0.01},{"s":21,"x":0.1,"y":0.0},{"s":21,"x":0.2,"y":0.005},{"s":21,"x":0.3,"y":0.008},{"s":21,"x":0.4,"y":0.01},{"s":21,"x":0.5,"y":0.012},{"s":21,"x":0.6,"y":0.012},{"s":21,"x":0.7,"y":0.01},{"s":21,"x":0.8,"y":0.0},{"s":21,"x":0.9,"y":-0.025},{"s":21,"x":0.99,"y":-0.057},
{"s":22,"x":0,"y":0.057},{"s":22,"x":0.1,"y":0.03},{"s":22,"x":0.2,"y":0.01},{"s":22,"x":0.3,"y":-0.005},{"s":22,"x":0.4,"y":-0.015},{"s":22,"x":0.5,"y":-0.018},{"s":22,"x":0.6,"y":-0.018},{"s":22,"x":0.7,"y":-0.015},{"s":22,"x":0.8,"y":-0.005},{"s":22,"x":0.9,"y":0.025},{"s":22,"x":0.99,"y":0.073},
{"s":23,"x":0,"y":-0.01},{"s":23,"x":0.1,"y":0.0},{"s":23,"x":0.2,"y":0.01},{"s":23,"x":0.3,"y":0.012},{"s":23,"x":0.4,"y":0.008},{"s":23,"x":0.5,"y":0.0},{"s":23,"x":0.6,"y":-0.005},{"s":23,"x":0.7,"y":-0.005},{"s":23,"x":0.8,"y":0.0},{"s":23,"x":0.9,"y":0.005},{"s":23,"x":0.99,"y":-0.004},
{"s":24,"x":0,"y":0.008},{"s":24,"x":0.1,"y":0.005},{"s":24,"x":0.2,"y":-0.005},{"s":24,"x":0.3,"y":-0.01},{"s":24,"x":0.4,"y":-0.008},{"s":24,"x":0.5,"y":-0.005},{"s":24,"x":0.6,"y":-0.006},{"s":24,"x":0.7,"y":-0.005},{"s":24,"x":0.8,"y":0.0},{"s":24,"x":0.9,"y":0.01},{"s":24,"x":0.99,"y":0.005},
{"s":25,"x":0,"y":0.01},{"s":25,"x":0.1,"y":0.005},{"s":25,"x":0.2,"y":0.0},{"s":25,"x":0.3,"y":-0.003},{"s":25,"x":0.4,"y":-0.005},{"s":25,"x":0.5,"y":-0.005},{"s":25,"x":0.6,"y":-0.003},{"s":25,"x":0.7,"y":0.0},{"s":25,"x":0.8,"y":0.003},{"s":25,"x":0.9,"y":0.005},{"s":25,"x":0.99,"y":0.005},
{"s":26,"x":0,"y":0.015},{"s":26,"x":0.1,"y":0.008},{"s":26,"x":0.2,"y":0.0},{"s":26,"x":0.3,"y":-0.005},{"s":26,"x":0.4,"y":-0.008},{"s":26,"x":0.5,"y":-0.01},{"s":26,"x":0.6,"y":-0.008},{"s":26,"x":0.7,"y":-0.005},{"s":26,"x":0.8,"y":0.0},{"s":26,"x":0.9,"y":0.008},{"s":26,"x":0.99,"y":0.015},
{"s":27,"x":0,"y":0.02},{"s":27,"x":0.1,"y":0.005},{"s":27,"x":0.2,"y":-0.005},{"s":27,"x":0.3,"y":-0.005},{"s":27,"x":0.4,"y":0.005},{"s":27,"x":0.5,"y":0.02},{"s":27,"x":0.6,"y":0.035},{"s":27,"x":0.7,"y":0.032},{"s":27,"x":0.8,"y":0.01},{"s":27,"x":0.9,"y":-0.015},{"s":27,"x":0.99,"y":-0.045},
{"s":28,"x":0,"y":-0.005},{"s":28,"x":0.1,"y":0.0},{"s":28,"x":0.2,"y":0.005},{"s":28,"x":0.3,"y":0.008},{"s":28,"x":0.4,"y":0.01},{"s":28,"x":0.5,"y":0.012},{"s":28,"x":0.6,"y":0.012},{"s":28,"x":0.7,"y":0.008},{"s":28,"x":0.8,"y":0.0},{"s":28,"x":0.9,"y":-0.01},{"s":28,"x":0.99,"y":-0.02},
{"s":29,"x":0,"y":0.05},{"s":29,"x":0.1,"y":0.02},{"s":29,"x":0.2,"y":0.005},{"s":29,"x":0.3,"y":-0.005},{"s":29,"x":0.4,"y":-0.01},{"s":29,"x":0.5,"y":-0.01},{"s":29,"x":0.6,"y":-0.008},{"s":29,"x":0.7,"y":-0.005},{"s":29,"x":0.8,"y":0.0},{"s":29,"x":0.9,"y":0.015},{"s":29,"x":0.99,"y":0.035}
],
"c":[
{"s":0,"x":0,"y":-0.05},{"s":0,"x":0.1,"y":-0.02},{"s":0,"x":0.2,"y":0.0},{"s":0,"x":0.3,"y":0.01},{"s":0,"x":0.4,"y":0.015},{"s":0,"x":0.5,"y":0.018},{"s":0,"x":0.6,"y":0.02},{"s":0,"x":0.7,"y":0.02},{"s":0,"x":0.8,"y":0.015},{"s":0,"x":0.9,"y":0.02},{"s":0,"x":0.99,"y":0.027},
{"s":1,"x":0,"y":0.056},{"s":1,"x":0.1,"y":0.025},{"s":1,"x":0.2,"y":0.0},{"s":1,"x":0.3,"y":-0.01},{"s":1,"x":0.4,"y":-0.015},{"s":1,"x":0.5,"y":-0.02},{"s":1,"x":0.6,"y":-0.02},{"s":1,"x":0.7,"y":-0.018},{"s":1,"x":0.8,"y":-0.01},{"s":1,"x":0.9,"y":0.0},{"s":1,"x":0.99,"y":0.009},
{"s":2,"x":0,"y":0.113},{"s":2,"x":0.1,"y":0.035},{"s":2,"x":0.2,"y":-0.02},{"s":2,"x":0.3,"y":-0.042},{"s":2,"x":0.4,"y":-0.04},{"s":2,"x":0.5,"y":-0.03},{"s":2,"x":0.6,"y":-0.015},{"s":2,"x":0.7,"y":0.0},{"s":2,"x":0.8,"y":0.012},{"s":2,"x":0.9,"y":0.03},{"s":2,"x":0.99,"y":0.061},
{"s":3,"x":0,"y":0.013},{"s":3,"x":0.1,"y":0.012},{"s":3,"x":0.2,"y":0.01},{"s":3,"x":0.3,"y":0.008},{"s":3,"x":0.4,"y":0.005},{"s":3,"x":0.5,"y":0.0},{"s":3,"x":0.6,"y":-0.005},{"s":3,"x":0.7,"y":-0.008},{"s":3,"x":0.8,"y":-0.005},{"s":3,"x":0.9,"y":0.005},{"s":3,"x":0.99,"y":0.021},
{"s":4,"x":0,"y":-0.003},{"s":4,"x":0.1,"y":0.035},{"s":4,"x":0.2,"y":0.04},{"s":4,"x":0.3,"y":0.025},{"s":4,"x":0.4,"y":0.0},{"s":4,"x":0.5,"y":-0.03},{"s":4,"x":0.6,"y":-0.05},{"s":4,"x":0.7,"y":-0.045},{"s":4,"x":0.8,"y":-0.015},{"s":4,"x":0.9,"y":0.03},{"s":4,"x":0.99,"y":0.07},
{"s":5,"x":0,"y":0.013},{"s":5,"x":0.1,"y":0.0},{"s":5,"x":0.2,"y":-0.01},{"s":5,"x":0.3,"y":-0.01},{"s":5,"x":0.4,"y":0.0},{"s":5,"x":0.5,"y":0.015},{"s":5,"x":0.6,"y":0.03},{"s":5,"x":0.7,"y":0.036},{"s":5,"x":0.8,"y":0.03},{"s":5,"x":0.9,"y":0.02},{"s":5,"x":0.99,"y":0.033},
{"s":6,"x":0,"y":0.0},{"s":6,"x":0.1,"y":-0.005},{"s":6,"x":0.2,"y":-0.005},{"s":6,"x":0.3,"y":0.0},{"s":6,"x":0.4,"y":0.005},{"s":6,"x":0.5,"y":0.008},{"s":6,"x":0.6,"y":0.01},{"s":6,"x":0.7,"y":0.008},{"s":6,"x":0.8,"y":0.005},{"s":6,"x":0.9,"y":0.0},{"s":6,"x":0.99,"y":-0.005},
{"s":7,"x":0,"y":0.071},{"s":7,"x":0.1,"y":0.035},{"s":7,"x":0.2,"y":0.01},{"s":7,"x":0.3,"y":-0.01},{"s":7,"x":0.4,"y":-0.022},{"s":7,"x":0.5,"y":-0.028},{"s":7,"x":0.6,"y":-0.025},{"s":7,"x":0.7,"y":-0.015},{"s":7,"x":0.8,"y":0.0},{"s":7,"x":0.9,"y":0.03},{"s":7,"x":0.99,"y":0.074},
{"s":8,"x":0,"y":-0.01},{"s":8,"x":0.1,"y":0.04},{"s":8,"x":0.2,"y":0.045},{"s":8,"x":0.3,"y":0.03},{"s":8,"x":0.4,"y":0.0},{"s":8,"x":0.5,"y":-0.035},{"s":8,"x":0.6,"y":-0.054},{"s":8,"x":0.7,"y":-0.05},{"s":8,"x":0.8,"y":-0.02},{"s":8,"x":0.9,"y":0.03},{"s":8,"x":0.99,"y":0.076},
{"s":9,"x":0,"y":0.074},{"s":9,"x":0.1,"y":0.035},{"s":9,"x":0.2,"y":0.01},{"s":9,"x":0.3,"y":0.0},{"s":9,"x":0.4,"y":-0.005},{"s":9,"x":0.5,"y":-0.005},{"s":9,"x":0.6,"y":-0.005},{"s":9,"x":0.7,"y":-0.005},{"s":9,"x":0.8,"y":-0.005},{"s":9,"x":0.9,"y":-0.01},{"s":9,"x":0.99,"y":-0.015},
{"s":10,"x":0,"y":-0.057},{"s":10,"x":0.1,"y":-0.03},{"s":10,"x":0.2,"y":-0.01},{"s":10,"x":0.3,"y":0.005},{"s":10,"x":0.4,"y":0.012},{"s":10,"x":0.5,"y":0.015},{"s":10,"x":0.6,"y":0.015},{"s":10,"x":0.7,"y":0.012},{"s":10,"x":0.8,"y":0.01},{"s":10,"x":0.9,"y":0.015},{"s":10,"x":0.99,"y":0.025},
{"s":11,"x":0,"y":-0.02},{"s":11,"x":0.1,"y":-0.01},{"s":11,"x":0.2,"y":-0.005},{"s":11,"x":0.3,"y":0.0},{"s":11,"x":0.4,"y":0.0},{"s":11,"x":0.5,"y":-0.005},{"s":11,"x":0.6,"y":-0.01},{"s":11,"x":0.7,"y":-0.012},{"s":11,"x":0.8,"y":-0.01},{"s":11,"x":0.9,"y":-0.005},{"s":11,"x":0.99,"y":0.012},
{"s":12,"x":0,"y":-0.067},{"s":12,"x":0.1,"y":-0.025},{"s":12,"x":0.2,"y":0.0},{"s":12,"x":0.3,"y":0.015},{"s":12,"x":0.4,"y":0.02},{"s":12,"x":0.5,"y":0.02},{"s":12,"x":0.6,"y":0.015},{"s":12,"x":0.7,"y":0.01},{"s":12,"x":0.8,"y":0.0},{"s":12,"x":0.9,"y":-0.015},{"s":12,"x":0.99,"y":-0.036},
{"s":13,"x":0,"y":-0.033},{"s":13,"x":0.1,"y":-0.015},{"s":13,"x":0.2,"y":0.0},{"s":13,"x":0.3,"y":0.01},{"s":13,"x":0.4,"y":0.015},{"s":13,"x":0.5,"y":0.02},{"s":13,"x":0.6,"y":0.02},{"s":13,"x":0.7,"y":0.015},{"s":13,"x":0.8,"y":0.005},{"s":13,"x":0.9,"y":-0.02},{"s":13,"x":0.99,"y":-0.05},
{"s":14,"x":0,"y":-0.055},{"s":14,"x":0.1,"y":-0.04},{"s":14,"x":0.2,"y":-0.02},{"s":14,"x":0.3,"y":0.0},{"s":14,"x":0.4,"y":0.02},{"s":14,"x":0.5,"y":0.035},{"s":14,"x":0.6,"y":0.04},{"s":14,"x":0.7,"y":0.035},{"s":14,"x":0.8,"y":0.01},{"s":14,"x":0.9,"y":-0.035},{"s":14,"x":0.99,"y":-0.078},
{"s":15,"x":0,"y":0.01},{"s":15,"x":0.1,"y":0.005},{"s":15,"x":0.2,"y":0.0},{"s":15,"x":0.3,"y":-0.005},{"s":15,"x":0.4,"y":-0.01},{"s":15,"x":0.5,"y":-0.01},{"s":15,"x":0.6,"y":-0.01},{"s":15,"x":0.7,"y":-0.008},{"s":15,"x":0.8,"y":-0.005},{"s":15,"x":0.9,"y":-0.01},{"s":15,"x":0.99,"y":-0.02},
{"s":16,"x":0,"y":-0.01},{"s":16,"x":0.1,"y":-0.005},{"s":16,"x":0.2,"y":0.0},{"s":16,"x":0.3,"y":0.003},{"s":16,"x":0.4,"y":0.005},{"s":16,"x":0.5,"y":0.005},{"s":16,"x":0.6,"y":0.003},{"s":16,"x":0.7,"y":0.0},{"s":16,"x":0.8,"y":-0.003},{"s":16,"x":0.9,"y":-0.005},{"s":16,"x":0.99,"y":-0.008},
{"s":17,"x":0,"y":0.061},{"s":17,"x":0.1,"y":0.045},{"s":17,"x":0.2,"y":0.025},{"s":17,"x":0.3,"y":0.005},{"s":17,"x":0.4,"y":-0.01},{"s":17,"x":0.5,"y":-0.015},{"s":17,"x":0.6,"y":-0.01},{"s":17,"x":0.7,"y":0.0},{"s":17,"x":0.8,"y":0.01},{"s":17,"x":0.9,"y":-0.005},{"s":17,"x":0.99,"y":-0.036},
{"s":18,"x":0,"y":0.0},{"s":18,"x":0.1,"y":0.005},{"s":18,"x":0.2,"y":0.01},{"s":18,"x":0.3,"y":0.01},{"s":18,"x":0.4,"y":0.005},{"s":18,"x":0.5,"y":0.0},{"s":18,"x":0.6,"y":-0.005},{"s":18,"x":0.7,"y":-0.005},{"s":18,"x":0.8,"y":0.0},{"s":18,"x":0.9,"y":-0.02},{"s":18,"x":0.99,"y":-0.045},
{"s":19,"x":0,"y":0.033},{"s":19,"x":0.1,"y":0.03},{"s":19,"x":0.2,"y":0.025},{"s":19,"x":0.3,"y":0.015},{"s":19,"x":0.4,"y":0.005},{"s":19,"x":0.5,"y":-0.005},{"s":19,"x":0.6,"y":-0.01},{"s":19,"x":0.7,"y":-0.01},{"s":19,"x":0.8,"y":-0.005},{"s":19,"x":0.9,"y":0.005},{"s":19,"x":0.99,"y":0.047},
{"s":20,"x":0,"y":-0.04},{"s":20,"x":0.1,"y":-0.02},{"s":20,"x":0.2,"y":-0.01},{"s":20,"x":0.3,"y":0.0},{"s":20,"x":0.4,"y":0.01},{"s":20,"x":0.5,"y":0.02},{"s":20,"x":0.6,"y":0.025},{"s":20,"x":0.7,"y":0.025},{"s":20,"x":0.8,"y":0.015},{"s":20,"x":0.9,"y":-0.02},{"s":20,"x":0.99,"y":-0.06},
{"s":21,"x":0,"y":0.013},{"s":21,"x":0.1,"y":0.03},{"s":21,"x":0.2,"y":0.025},{"s":21,"x":0.3,"y":0.01},{"s":21,"x":0.4,"y":-0.01},{"s":21,"x":0.5,"y":-0.025},{"s":21,"x":0.6,"y":-0.03},{"s":21,"x":0.7,"y":-0.025},{"s":21,"x":0.8,"y":-0.005},{"s":21,"x":0.9,"y":0.015},{"s":21,"x":0.99,"y":0.021},
{"s":22,"x":0,"y":-0.02},{"s":22,"x":0.1,"y":0.0},{"s":22,"x":0.2,"y":0.025},{"s":22,"x":0.3,"y":0.033},{"s":22,"x":0.4,"y":0.03},{"s":22,"x":0.5,"y":0.02},{"s":22,"x":0.6,"y":0.01},{"s":22,"x":0.7,"y":0.0},{"s":22,"x":0.8,"y":-0.01},{"s":22,"x":0.9,"y":-0.02},{"s":22,"x":0.99,"y":-0.03},
{"s":23,"x":0,"y":-0.02},{"s":23,"x":0.1,"y":-0.015},{"s":23,"x":0.2,"y":-0.01},{"s":23,"x":0.3,"y":-0.005},{"s":23,"x":0.4,"y":-0.003},{"s":23,"x":0.5,"y":-0.003},{"s":23,"x":0.6,"y":-0.005},{"s":23,"x":0.7,"y":-0.005},{"s":23,"x":0.8,"y":0.0},{"s":23,"x":0.9,"y":0.01},{"s":23,"x":0.99,"y":0.02},
{"s":24,"x":0,"y":0.0},{"s":24,"x":0.1,"y":0.0},{"s":24,"x":0.2,"y":0.0},{"s":24,"x":0.3,"y":0.005},{"s":24,"x":0.4,"y":0.008},{"s":24,"x":0.5,"y":0.01},{"s":24,"x":0.6,"y":0.008},{"s":24,"x":0.7,"y":0.005},{"s":24,"x":0.8,"y":0.0},{"s":24,"x":0.9,"y":-0.005},{"s":24,"x":0.99,"y":-0.01},
{"s":25,"x":0,"y":-0.03},{"s":25,"x":0.1,"y":-0.015},{"s":25,"x":0.2,"y":-0.005},{"s":25,"x":0.3,"y":0.0},{"s":25,"x":0.4,"y":0.005},{"s":25,"x":0.5,"y":0.008},{"s":25,"x":0.6,"y":0.008},{"s":25,"x":0.7,"y":0.005},{"s":25,"x":0.8,"y":0.0},{"s":25,"x":0.9,"y":-0.01},{"s":25,"x":0.99,"y":-0.03},
{"s":26,"x":0,"y":0.005},{"s":26,"x":0.1,"y":0.003},{"s":26,"x":0.2,"y":0.0},{"s":26,"x":0.3,"y":-0.002},{"s":26,"x":0.4,"y":-0.003},{"s":26,"x":0.5,"y":-0.003},{"s":26,"x":0.6,"y":-0.002},{"s":26,"x":0.7,"y":0.0},{"s":26,"x":0.8,"y":0.002},{"s":26,"x":0.9,"y":0.003},{"s":26,"x":0.99,"y":0.005},
{"s":27,"x":0,"y":0.0},{"s":27,"x":0.1,"y":-0.01},{"s":27,"x":0.2,"y":-0.015},{"s":27,"x":0.3,"y":-0.012},{"s":27,"x":0.4,"y":-0.005},{"s":27,"x":0.5,"y":0.005},{"s":27,"x":0.6,"y":0.015},{"s":27,"x":0.7,"y":0.02},{"s":27,"x":0.8,"y":0.015},{"s":27,"x":0.9,"y":0.0},{"s":27,"x":0.99,"y":-0.03},
{"s":28,"x":0,"y":-0.015},{"s":28,"x":0.1,"y":-0.005},{"s":28,"x":0.2,"y":0.0},{"s":28,"x":0.3,"y":0.005},{"s":28,"x":0.4,"y":0.01},{"s":28,"x":0.5,"y":0.012},{"s":28,"x":0.6,"y":0.01},{"s":28,"x":0.7,"y":0.005},{"s":28,"x":0.8,"y":-0.005},{"s":28,"x":0.9,"y":-0.01},{"s":28,"x":0.99,"y":-0.015},
{"s":29,"x":0,"y":-0.03},{"s":29,"x":0.1,"y":-0.02},{"s":29,"x":0.2,"y":-0.01},{"s":29,"x":0.3,"y":0.0},{"s":29,"x":0.4,"y":0.01},{"s":29,"x":0.5,"y":0.015},{"s":29,"x":0.6,"y":0.015},{"s":29,"x":0.7,"y":0.012},{"s":29,"x":0.8,"y":0.005},{"s":29,"x":0.9,"y":-0.03},{"s":29,"x":0.99,"y":-0.069},
{"s":30,"x":0,"y":-0.055},{"s":30,"x":0.1,"y":-0.025},{"s":30,"x":0.2,"y":-0.005},{"s":30,"x":0.3,"y":0.005},{"s":30,"x":0.4,"y":0.008},{"s":30,"x":0.5,"y":0.005},{"s":30,"x":0.6,"y":0.0},{"s":30,"x":0.7,"y":-0.005},{"s":30,"x":0.8,"y":-0.008},{"s":30,"x":0.9,"y":0.0},{"s":30,"x":0.99,"y":0.02},
{"s":31,"x":0,"y":0.0},{"s":31,"x":0.1,"y":-0.01},{"s":31,"x":0.2,"y":-0.015},{"s":31,"x":0.3,"y":-0.015},{"s":31,"x":0.4,"y":-0.01},{"s":31,"x":0.5,"y":0.005},{"s":31,"x":0.6,"y":0.015},{"s":31,"x":0.7,"y":0.02},{"s":31,"x":0.8,"y":0.015},{"s":31,"x":0.9,"y":-0.02},{"s":31,"x":0.99,"y":-0.06},
{"s":32,"x":0,"y":0.02},{"s":32,"x":0.1,"y":0.015},{"s":32,"x":0.2,"y":0.01},{"s":32,"x":0.3,"y":0.005},{"s":32,"x":0.4,"y":0.0},{"s":32,"x":0.5,"y":-0.005},{"s":32,"x":0.6,"y":-0.01},{"s":32,"x":0.7,"y":-0.012},{"s":32,"x":0.8,"y":-0.01},{"s":32,"x":0.9,"y":-0.015},{"s":32,"x":0.99,"y":-0.02},
{"s":33,"x":0,"y":-0.045},{"s":33,"x":0.1,"y":-0.02},{"s":33,"x":0.2,"y":0.0},{"s":33,"x":0.3,"y":0.012},{"s":33,"x":0.4,"y":0.015},{"s":33,"x":0.5,"y":0.015},{"s":33,"x":0.6,"y":0.012},{"s":33,"x":0.7,"y":0.008},{"s":33,"x":0.8,"y":0.005},{"s":33,"x":0.9,"y":0.015},{"s":33,"x":0.99,"y":0.025}
]
},
"vconcat":[
 {"hconcat":[
  {"width":610,"height":10,"view":{"stroke":null},"data":{"values":[{"s":0}]},"mark":{"type":"point","opacity":0},"encoding":{}},
  {"width":1408,"height":882,"layer":[
   {"data":{"name":"a"},"mark":{"type":"line"},"encoding":{
     "x":{"field":"x","type":"quantitative","title":"Position along the body","scale":{"domain":[0,1],"nice":false,"zero":false},"axis":{"values":[0,0.2,0.4,0.6,0.8,1],"format":".1f"}},
     "y":{"field":"y","type":"quantitative","title":"Amplitude (cm)","scale":{"domain":[-0.4,0.4],"nice":false,"zero":false},"axis":{"values":[-0.4,-0.2,0,0.2,0.4],"format":".1f"}},
     "color":{"field":"s","type":"nominal","scale":{"scheme":"category10"},"legend":null}}},
   {"data":{"values":[{"label":"(a)"}]},"mark":{"type":"text","align":"left","baseline":"top","fontSize":92,"color":"black"},"encoding":{
     "x":{"datum":0.01,"type":"quantitative","title":"Position along the body"},
     "y":{"datum":0.387,"type":"quantitative","title":"Amplitude (cm)"},
     "text":{"field":"label"}}}
  ]}
 ],"spacing":20},
 {"hconcat":[
  {"width":1408,"height":885,"layer":[
   {"data":{"name":"b"},"mark":{"type":"line"},"encoding":{
     "x":{"field":"x","type":"quantitative","title":"Position along the body","scale":{"domain":[0,1],"nice":false,"zero":false},"axis":{"values":[0,0.2,0.4,0.6,0.8,1],"format":".1f"}},
     "y":{"field":"y","type":"quantitative","title":"Amplitude (cm)","scale":{"domain":[-0.4,0.4],"nice":false,"zero":false},"axis":{"values":[-0.4,-0.2,0,0.2,0.4],"format":".1f"}},
     "color":{"field":"s","type":"nominal","scale":{"scheme":"category10"},"legend":null}}},
   {"data":{"values":[{"label":"(b)"}]},"mark":{"type":"text","align":"left","baseline":"top","fontSize":92,"color":"black"},"encoding":{
     "x":{"datum":0.01,"type":"quantitative","title":"Position along the body"},
     "y":{"datum":0.387,"type":"quantitative","title":"Amplitude (cm)"},
     "text":{"field":"label"}}}
  ]},
  {"width":1408,"height":885,"layer":[
   {"data":{"name":"c"},"mark":{"type":"line"},"encoding":{
     "x":{"field":"x","type":"quantitative","title":"Position along the body","scale":{"domain":[0,1],"nice":false,"zero":false},"axis":{"values":[0,0.2,0.4,0.6,0.8,1],"format":".1f"}},
     "y":{"field":"y","type":"quantitative","title":"Amplitude (cm)","scale":{"domain":[-0.4,0.4],"nice":false,"zero":false},"axis":{"values":[-0.4,-0.2,0,0.2,0.4],"format":".1f"}},
     "color":{"field":"s","type":"nominal","scale":{"scheme":"category10"},"legend":null}}},
   {"data":{"values":[{"label":"(c)"}]},"mark":{"type":"text","align":"left","baseline":"top","fontSize":92,"color":"black"},"encoding":{
     "x":{"datum":0.01,"type":"quantitative","title":"Position along the body"},
     "y":{"datum":0.387,"type":"quantitative","title":"Amplitude (cm)"},
     "text":{"field":"label"}}}
  ]}
 ],"spacing":9}
],
"spacing":20
}
